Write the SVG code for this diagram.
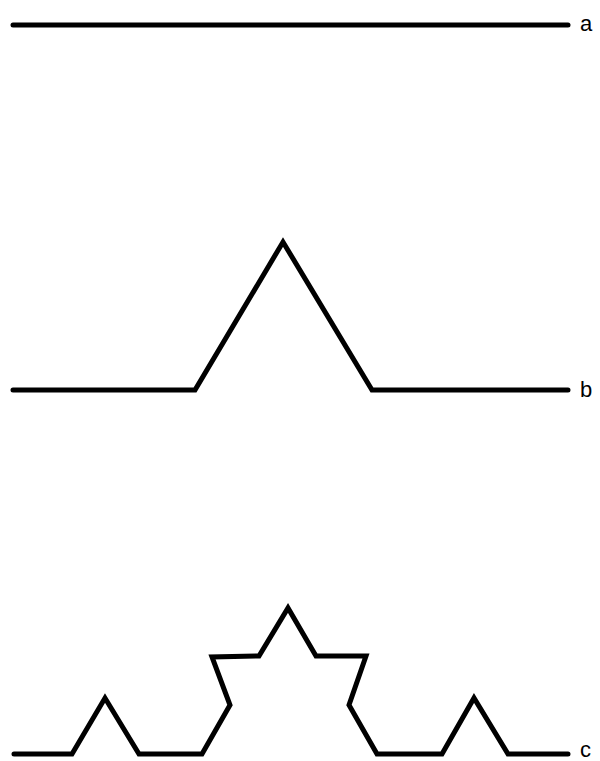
<svg xmlns="http://www.w3.org/2000/svg" width="600" height="761" viewBox="0 0 600 761">
<style>
.curve{fill:none;stroke:#000;stroke-width:5;stroke-linecap:round;stroke-linejoin:miter}
.lbl{font-family:"Liberation Sans",Arial,sans-serif;font-size:22px;fill:#000}
</style>
<rect width="600" height="761" fill="#fff"/>
<g id="curve-a">
<polyline class="curve" points="13,25 568,25"/>
<text class="lbl" x="580" y="31">a</text>
</g>
<g id="curve-b">
<polyline class="curve" points="13,390 195,390 283,242 372,390 568,390"/>
<text class="lbl" x="580" y="397">b</text>
</g>
<g id="curve-c">
<polyline class="curve" points="14,754 72,754 105,698 139,754 202,754 230,705 212,657 259,656 288,608 316,656 366,656 349,705 377,754 442,754 474,698 508,754 568,754"/>
<text class="lbl" x="580" y="757">c</text>
</g>
</svg>
